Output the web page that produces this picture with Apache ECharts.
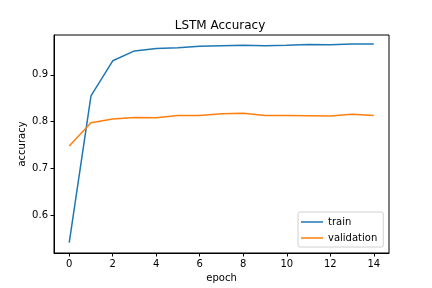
<!DOCTYPE html>
<html>
<head>
<meta charset="utf-8">
<script src="https://cdn.jsdelivr.net/npm/echarts@6/dist/echarts.min.js"></script>
<style>html,body{margin:0;padding:0;background:#fff}#c{width:432px;height:288px}</style>
</head>
<body>
<div id="c"></div>
<script>
var epochs = [0,1,2,3,4,5,6,7,8,9,10,11,12,13,14];
var train = [0.542,0.855,0.930,0.951,0.956,0.958,0.961,0.962,0.963,0.962,0.963,0.965,0.964,0.966,0.966];
var validation = [0.748,0.798,0.806,0.809,0.8085,0.8135,0.8135,0.817,0.818,0.8135,0.8135,0.813,0.812,0.816,0.8135];
var xTicks = [0,2,4,6,8,10,12,14];
var yTicks = [0.6,0.7,0.8,0.9];

var FONT = 'DejaVu Sans';
function pairs(vals){ return epochs.map(function(e,i){ return [e, vals[i]]; }); }

var chart = echarts.init(document.getElementById('c'), null, {renderer:'canvas'});
chart.setOption({
  animation:false,
  backgroundColor:'#fff',
  textStyle:{fontFamily:FONT},
  title:{
    text:'LSTM Accuracy',
    left:215, top:15, textAlign:'center',
    textStyle:{fontFamily:FONT,fontSize:12,fontWeight:'normal',color:'#000'}
  },
  grid:{left:54,right:43,top:35,bottom:35,show:true,borderColor:'#000',borderWidth:1,backgroundColor:'transparent'},
  legend:{
    orient:'vertical', left:298, top:212,
    data:['train','validation'],
    icon:'path://M0,0 H22 V1.5 H0 Z',
    itemWidth:22, itemHeight:1.6, itemGap:4,
    padding:[4,6,3,3],
    borderColor:'#d0d0d0', borderWidth:1, borderRadius:2, backgroundColor:'rgba(255,255,255,0.8)',
    textStyle:{fontFamily:FONT,fontSize:10,color:'#000',lineHeight:12}
  },
  xAxis:{
    type:'value', min:-0.7, max:14.7,
    name:'epoch', nameLocation:'middle', nameGap:20, nameMoveOverlap:false,
    nameTextStyle:{fontFamily:FONT,fontSize:10,color:'#000'},
    axisLine:{show:true,onZero:false,lineStyle:{color:'#000',width:1}},
    axisTick:{show:true,inside:false,length:3.5,lineStyle:{color:'#000'},customValues:xTicks},
    axisLabel:{show:true,margin:6,fontFamily:FONT,fontSize:10,color:'#000',customValues:xTicks,formatter:function(v){return String(v);}},
    splitLine:{show:false}
  },
  yAxis:{
    type:'value', min:0.52, max:0.985,
    name:'accuracy', nameLocation:'middle', nameGap:27, nameRotate:90, nameMoveOverlap:false,
    nameTextStyle:{fontFamily:FONT,fontSize:10,color:'#000'},
    axisLine:{show:true,onZero:false,lineStyle:{color:'#000',width:1}},
    axisTick:{show:true,inside:false,length:3.5,lineStyle:{color:'#000'},customValues:yTicks},
    axisLabel:{show:true,margin:6,fontFamily:FONT,fontSize:10,color:'#000',customValues:yTicks,formatter:function(v){return v.toFixed(1);}},
    splitLine:{show:false}
  },
  series:[
    {name:'train',type:'line',data:pairs(train),showSymbol:false,symbol:'none',lineStyle:{color:'#1f77b4',width:1.5},itemStyle:{color:'#1f77b4'}},
    {name:'validation',type:'line',data:pairs(validation),showSymbol:false,symbol:'none',lineStyle:{color:'#ff7f0e',width:1.5},itemStyle:{color:'#ff7f0e'}}
  ]
});
</script>
</body>
</html>
